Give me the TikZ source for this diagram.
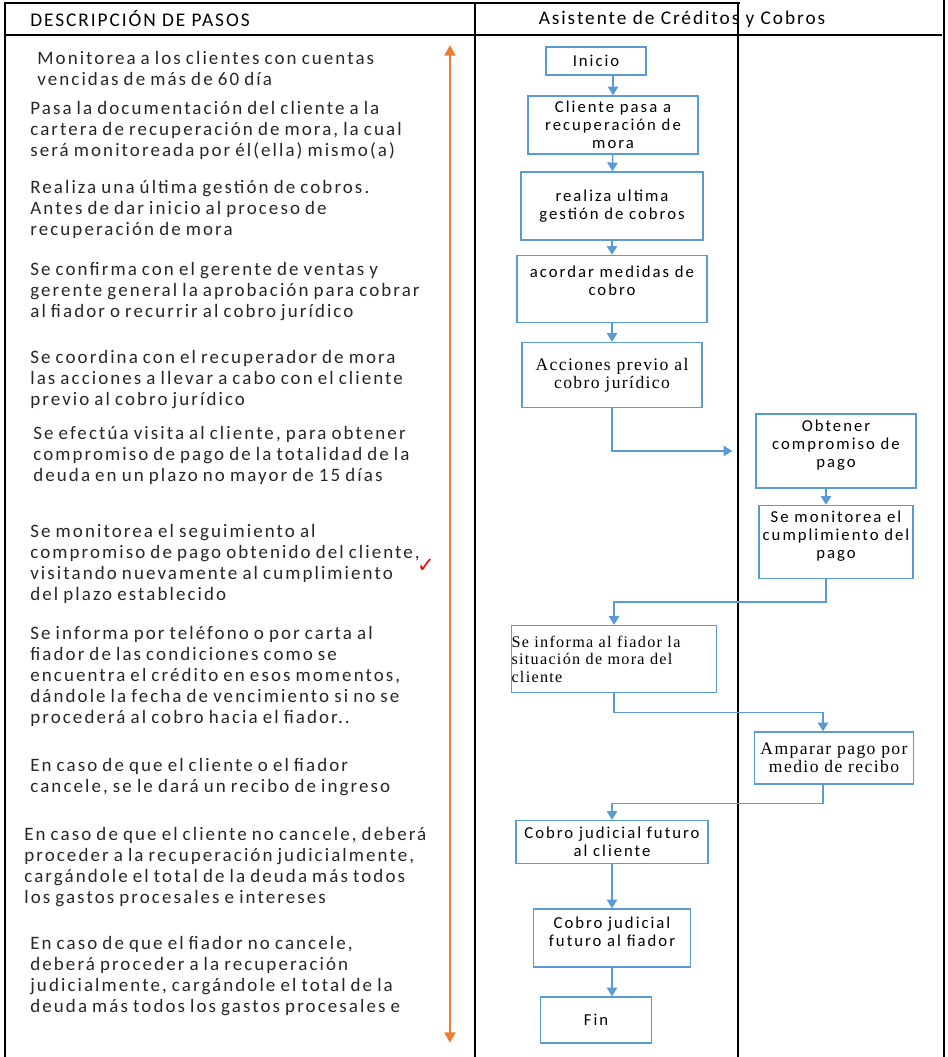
\documentclass[tikz,border=0pt]{standalone}
\usepackage{fontspec}
\setmainfont{Carlito}
\newfontfamily\pasofont[LetterSpace=11,WordSpace=0.8]{Carlito}
\newfontfamily\headfont[LetterSpace=10]{Carlito}
\newfontfamily\boxfont[LetterSpace=12]{Carlito}
\newfontfamily\boxserif[LetterSpace=8]{Liberation Serif}
\newfontfamily\symfont{DejaVu Sans}
\usetikzlibrary{arrows.meta}
\definecolor{flowblue}{RGB}{91,155,213}
\definecolor{tlorange}{RGB}{237,125,49}

\begin{document}
\begin{tikzpicture}[
    x=0.02cm, y=-0.02cm,
    frame/.style={line width=1.6pt},
    head/.style={inner sep=0pt, font=\headfont\fontsize{11}{12}\selectfont},
    paso/.style={anchor=north west, align=left, inner sep=0pt, text=black!85,
        font=\pasofont\fontsize{10.8}{11.9}\selectfont},
    boxtext/.style={align=center, inner sep=0pt, font=\boxfont\fontsize{9.5}{10.2}\selectfont},
    box/.style={draw=flowblue, line width=0.8pt, inner sep=1pt, boxtext},
    sbox/.style={box, font=\boxserif\fontsize{10}{10}\selectfont},
    flow/.style={draw=flowblue, line width=0.8pt, -{Triangle[width=6pt,length=5pt]}},
    timeline/.style={draw=tlorange, line width=1.5pt,
        {Triangle[width=6pt,length=6pt]}-{Triangle[width=6pt,length=6pt]}}
]
\useasboundingbox (0,0) rectangle (947,1057);

\draw[frame] (5,1057) -- (5,3) -- (740,3);
\draw[frame] (5,35) -- (942,35);
\draw[frame] (475,3) -- (475,1057);
\draw[frame] (738,3) -- (738,1057);
\draw[frame] (944,0) -- (944,1057);

\node[head, anchor=west] (hdesc) at (30,19) {DESCRIPCIÓN DE PASOS};
\node[head] (hasis) at (682,19) {Asistente de Créditos y Cobros};

\node[paso] (d1) at (37,51) {Monitorea a los clientes con cuentas\\vencidas de más de 60 día};
\node[paso] (d2) at (30,101) {Pasa la documentación del cliente a la\\cartera de recuperación de mora, la cual\\será monitoreada por él(ella) mismo(a)};
\node[paso] (d3) at (30,180) {Realiza una última gestión de cobros.\\Antes de dar inicio al proceso de\\recuperación de mora};
\node[paso] (d4) at (30,262) {Se confirma con el gerente de ventas y\\gerente general la aprobación para cobrar\\al fiador o recurrir al cobro jurídico};
\node[paso] (d5) at (30,350) {Se coordina con el recuperador de mora\\las acciones a llevar a cabo con el cliente\\previo al cobro jurídico};
\node[paso] (d6) at (33,426) {Se efectúa visita al cliente, para obtener\\compromiso de pago de la totalidad de la\\deuda en un plazo no mayor de 15 días};
\node[paso] (d7) at (30,524) {Se monitorea el seguimiento al\\compromiso de pago obtenido del cliente,\\visitando nuevamente al cumplimiento\\del plazo establecido};
\node[paso] (d8) at (30,626) {Se informa por teléfono o por carta al\\fiador de las condiciones como se\\encuentra el crédito en esos momentos,\\dándole la fecha de vencimiento si no se\\procederá al cobro hacia el fiador..};
\node[paso] (d9) at (30,758) {En caso de que el cliente o el fiador\\cancele, se le dará un recibo de ingreso};
\node[paso] (d10) at (24,827) {En caso de que el cliente no cancele, deberá\\proceder a la recuperación judicialmente,\\cargándole el total de la deuda más todos\\los gastos procesales e intereses};
\node[paso] (d11) at (30,936) {En caso de que el fiador no cancele,\\deberá proceder a la recuperación\\judicialmente, cargándole el total de la\\deuda más todos los gastos procesales e};

\node[text=red, inner sep=0pt, font=\symfont\bfseries\fontsize{12}{12}\selectfont] (check) at (426,566) {✓};

\coordinate (tltop) at (450,45);
\coordinate (tlbot) at (450,1043);
\draw[timeline] (tltop) -- (tlbot);

\node[box, minimum width=2cm, minimum height=0.56cm] (inicio) at (596,61) {Inicio};
\node[box, minimum width=3.4cm, minimum height=1.16cm] (cliente) at (613,125) {Cliente pasa a\\recuperación de\\mora};
\node[box, minimum width=3.64cm, minimum height=1.36cm] (gestion) at (612,206) {realiza ultima\\gestión de cobros};
\node[box, minimum width=3.8cm, minimum height=1.34cm,
    label={[boxtext, yshift=0.16cm]center:acordar medidas de\\cobro}] (acordar) at (612,289) {};
\node[sbox, minimum width=3.6cm, minimum height=1.3cm] (acciones) at (612,375) {Acciones previo al\\cobro jurídico};
\node[box, minimum width=3.2cm, minimum height=1.48cm,
    label={[boxtext, yshift=0.12cm]center:Obtener\\compromiso de\\pago}] (compromiso) at (836,451) {};
\node[box, minimum width=3.08cm, minimum height=1.46cm,
    label={[boxtext, yshift=0.11cm]center:Se monitorea el\\cumplimiento del\\pago}] (monitoreo) at (836,542) {};
\node[sbox, align=left, text width=4.1cm, minimum height=1.34cm,
    font=\boxserif\fontsize{9.2}{9.9}\selectfont] (informa) at (614,659) {Se informa al fiador la\\situación de mora del\\cliente};
\node[sbox, minimum width=3.18cm, minimum height=1.04cm] (amparar) at (834,758) {Amparar pago por\\medio de recibo};
\node[box, minimum width=3.84cm, minimum height=0.86cm] (cobrocli) at (612,842) {Cobro judicial futuro\\al cliente};
\node[box, minimum width=3.14cm, minimum height=1.16cm,
    label={[boxtext, yshift=0.12cm]center:Cobro judicial\\futuro al fiador}] (cobrofia) at (612,938) {};
\node[box, minimum width=2.22cm, minimum height=0.92cm] (fin) at (596,1020) {Fin};

\draw[flow] (inicio.south -| cliente.north) -- (cliente.north);
\draw[flow] (cliente) -- (gestion);
\draw[flow] (gestion) -- (acordar);
\draw[flow] (acordar) -- (acciones);
\draw[flow, shorten >=0.46cm] (acciones) |- (compromiso);
\draw[flow] ([xshift=-0.2cm]compromiso.south) -- ([xshift=-0.2cm]monitoreo.north);
\draw[flow] ([xshift=-0.2cm]monitoreo.south) -- ++(0,23) -| (informa.north);
\draw[flow] (informa.south) -- ++(0,19) -| ([xshift=-0.22cm]amparar.north);
\draw[flow] ([xshift=-0.22cm]amparar.south) -- ++(0,19) -| (cobrocli.north);
\draw[flow] (cobrocli) -- (cobrofia);
\draw[flow] (cobrofia) -- (cobrofia |- fin.north);

\end{tikzpicture}
\end{document}
